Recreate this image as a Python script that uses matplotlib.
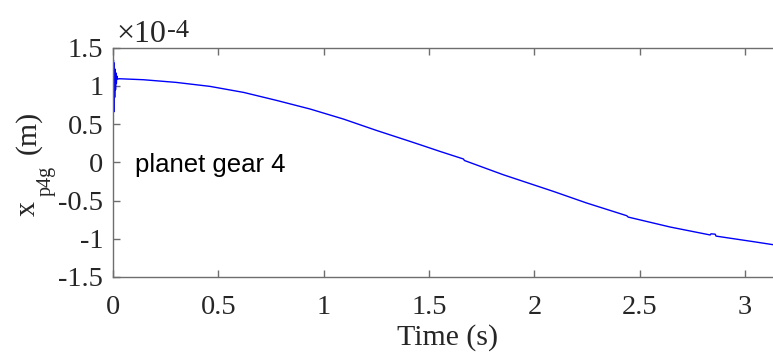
import numpy as np
import matplotlib
matplotlib.use('Agg')
import matplotlib.pyplot as plt

plt.rcParams['font.family'] = 'Liberation Serif'

# displacement of planet gear 4 (units of 1e-4 m)
time_s = [0.0, 0.002, 0.004, 0.006, 0.008, 0.010, 0.012, 0.014, 0.016, 0.018,
          0.022, 0.03, 0.144, 0.30, 0.46, 0.62, 0.777, 0.935, 1.093, 1.25,
          1.41, 1.457, 1.552, 1.663, 1.668, 1.852, 2.09, 2.248, 2.438, 2.445,
          2.644, 2.834, 2.838, 2.858, 2.862, 3.04, 3.175]
x_p4g = [0.0, 1.34, 0.66, 1.30, 0.85, 1.22, 0.95, 1.17, 1.03, 1.13,
         1.09, 1.094, 1.081, 1.046, 0.994, 0.915, 0.81, 0.698, 0.567, 0.418,
         0.274, 0.231, 0.143, 0.044, 0.024, -0.162, -0.38, -0.532, -0.698, -0.716,
         -0.846, -0.95, -0.935, -0.94, -0.965, -1.038, -1.095]

xticks = [0, 0.5, 1, 1.5, 2, 2.5, 3]
yticks = [-1.5, -1, -0.5, 0, 0.5, 1, 1.5]

W, H = 773, 352
fig = plt.figure(figsize=(W / 100, H / 100), dpi=100)
# right spine sits just past the figure edge
ax = fig.add_axes([113 / W, 75 / H, 669 / W, 229.3 / H])

ax.plot(time_s, x_p4g, color='#0000ff', lw=1.0)

ax.set_xlim(0, 3.175)
ax.set_ylim(-1.5, 1.5)
ax.set_xticks(xticks)
ax.set_xticklabels([f'{v:g}' for v in xticks])
ax.set_yticks(yticks)
ax.set_yticklabels([f'{v:g}' for v in yticks])

for s in ax.spines.values():
    s.set_color('#6e6e6e')
    s.set_linewidth(1.0)
ax.tick_params(direction='in', length=5, width=1.0, color='#6e6e6e',
               labelsize=20.5, labelcolor='#262626', top=True, right=True)
ax.tick_params(axis='x', pad=13)
ax.tick_params(axis='y', pad=7)

ax.set_xlabel('Time (s)', fontsize=21.5, color='#262626', labelpad=3)

# y label built from pieces so the subscript drops like the MATLAB tex one
ylab = dict(rotation=90, rotation_mode='anchor', ha='left', va='baseline',
            color='#262626')
fig.text(35 / W, 1 - 216 / H, 'x', fontsize=21.5, **ylab)
fig.text(51 / W, 1 - 196 / H, 'p4g', fontsize=14.5, **ylab)
fig.text(35 / W, 1 - 154 / H, '(m)', fontsize=21.5, **ylab)

# exponent label above the y axis
ax.annotate('\u00d710', xy=(0, 1), xycoords='axes fraction', xytext=(3, 6),
            textcoords='offset pixels', fontsize=23, color='#262626',
            ha='left', va='baseline')
ax.annotate('-4', xy=(0, 1), xycoords='axes fraction', xytext=(54, 11),
            textcoords='offset pixels', fontsize=19, color='#262626',
            ha='left', va='baseline')

ax.text(0.105, -0.13, 'planet gear 4', fontsize=18.5, family='Liberation Sans',
        color='black', ha='left', va='baseline')

fig.savefig('out.png', dpi=100)
